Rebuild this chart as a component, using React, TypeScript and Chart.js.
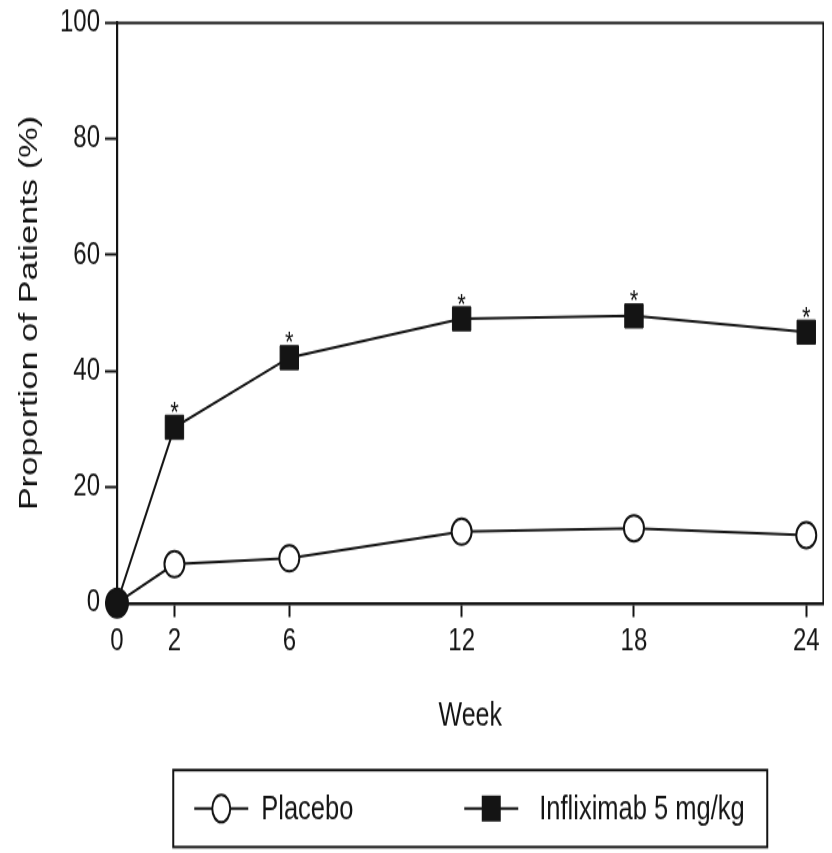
import React, { useEffect, useRef } from "react";
import { Chart, registerables } from "chart.js";

Chart.register(...registerables);

// ---- data ----
const weeks = [0, 2, 6, 12, 18, 24];
const placebo = [0, 6.7, 7.7, 12.3, 12.9, 11.7];
const infliximab = [0, 30.3, 42.3, 49.0, 49.5, 46.7];
const significant = [false, true, true, true, true, true];
const xTicks = [0, 2, 6, 12, 18, 24];
const yTicks = [0, 20, 40, 60, 80, 100];
const seriesLabels = ["Placebo", "Infliximab 5 mg/kg"];
const xTitle = "Week";
const yTitle = "Proportion of Patients (%)";

// ---- style ----
const INK = "#141414";
const SANS = "'Liberation Sans', Arial, Helvetica, sans-serif";
const CANVAS_W = 816;
const CANVAS_H = 650; // logical height, displayed stretched to 845px
const DISPLAY_H = 845;

const framePlugin = {
  id: "frame",
  afterDraw(chart: any) {
    const { ctx, chartArea: a } = chart;
    ctx.save();
    ctx.strokeStyle = INK;
    ctx.lineWidth = 2.2;
    ctx.beginPath();
    ctx.moveTo(a.left, a.top);
    ctx.lineTo(a.right, a.top);
    ctx.lineTo(a.right, a.bottom);
    ctx.stroke();
    ctx.restore();
  },
};

const asteriskPlugin = {
  id: "asterisks",
  afterDatasetsDraw(chart: any) {
    const { ctx } = chart;
    const meta = chart.getDatasetMeta(1);
    ctx.save();
    ctx.fillStyle = INK;
    ctx.font = `22px ${SANS}`;
    ctx.textAlign = "center";
    ctx.textBaseline = "alphabetic";
    meta.data.forEach((pt: any, i: number) => {
      if (significant[i]) ctx.fillText("*", pt.x, pt.y - 4.5);
    });
    ctx.restore();
  },
};

const legendPlugin = {
  id: "boxLegend",
  afterDraw(chart: any) {
    const { ctx, chartArea: a } = chart;
    const w = 594;
    const top = chart.height - 63.8;
    const bottom = chart.height - 4.6;
    const left = (a.left + a.right) / 2 - w / 2;
    const cy = (top + bottom) / 2;
    ctx.save();
    ctx.strokeStyle = INK;
    ctx.lineWidth = 2;
    ctx.strokeRect(left, top, w, bottom - top);

    const markerX = [48, 318];
    const textX = [88, 366];
    chart.data.datasets.forEach((ds: any, i: number) => {
      const mx = left + markerX[i];
      ctx.strokeStyle = INK;
      ctx.lineWidth = 2;
      ctx.beginPath();
      ctx.moveTo(mx - 27, cy);
      ctx.lineTo(mx + 27, cy);
      ctx.stroke();
      if (ds.pointStyle === "rect") {
        ctx.fillStyle = INK;
        ctx.fillRect(mx - 9.5, cy - 10, 19, 20);
      } else {
        ctx.fillStyle = "#ffffff";
        ctx.beginPath();
        ctx.ellipse(mx, cy, 9, 10.5, 0, 0, Math.PI * 2);
        ctx.fill();
        ctx.stroke();
      }
      ctx.fillStyle = INK;
      ctx.font = `25.5px ${SANS}`;
      ctx.textAlign = "left";
      ctx.textBaseline = "middle";
      ctx.fillText(ds.label, left + textX[i], cy + 1);
    });
    ctx.restore();
  },
};

export default function App() {
  const ref = useRef<HTMLCanvasElement>(null);

  useEffect(() => {
    const canvas = ref.current!;
    const chart = new Chart(canvas, {
      type: "line",
      data: {
        datasets: [
          {
            label: seriesLabels[0],
            data: weeks.map((w, i) => ({ x: w, y: placebo[i] })),
            borderColor: INK,
            borderWidth: 2,
            pointStyle: "circle",
            pointRadius: (c: any) => (c.dataIndex === 0 ? 11 : 10),
            pointBackgroundColor: (c: any) => (c.dataIndex === 0 ? INK : "#ffffff"),
            pointBorderColor: INK,
            pointBorderWidth: 2,
            tension: 0,
            clip: false,
          } as any,
          {
            label: seriesLabels[1],
            data: weeks.map((w, i) => ({ x: w, y: infliximab[i] })),
            borderColor: INK,
            borderWidth: 2,
            pointStyle: "rect",
            pointRadius: (c: any) => (c.dataIndex === 0 ? 0 : 13),
            pointBackgroundColor: INK,
            pointBorderColor: INK,
            pointBorderWidth: 1,
            tension: 0,
            clip: false,
          } as any,
        ],
      },
      options: {
        responsive: false,
        devicePixelRatio: 1,
        animation: false,
        events: [],
        layout: {
          autoPadding: false,
          padding: { top: 11.5, right: 0.5, left: 0, bottom: 89.6 },
        },
        plugins: {
          legend: { display: false },
          tooltip: { enabled: false },
        },
        scales: {
          x: {
            type: "linear",
            min: 0,
            max: 24.6,
            afterBuildTicks: (s: any) => {
              s.ticks = xTicks.map((v) => ({ value: v }));
            },
            afterFit: (s: any) => {
              s.height = 102.7;
              s.paddingLeft = 0;
              s.paddingRight = 0;
            },
            ticks: {
              color: INK,
              font: { family: SANS, size: 24 },
              padding: 4,
              maxRotation: 0,
              autoSkip: false,
              callback: (v: any) => String(v),
            },
            grid: {
              drawOnChartArea: false,
              drawTicks: true,
              tickLength: 10.8,
              tickWidth: 2,
              color: INK,
            },
            border: { display: true, color: INK, width: 2.4 },
            title: {
              display: true,
              text: xTitle,
              color: INK,
              font: { family: SANS, size: 25 },
              padding: 0,
            },
          },
          y: {
            type: "linear",
            min: 0,
            max: 100,
            afterBuildTicks: (s: any) => {
              s.ticks = yTicks.map((v) => ({ value: v }));
            },
            afterFit: (s: any) => {
              s.width = 109;
              s.paddingTop = 0;
              s.paddingBottom = 0;
            },
            ticks: {
              color: INK,
              font: { family: SANS, size: 24 },
              padding: 5,
              autoSkip: false,
              callback: (v: any) => String(v),
            },
            grid: {
              drawOnChartArea: false,
              drawTicks: true,
              tickLength: 12,
              tickWidth: 2,
              color: INK,
            },
            border: { display: true, color: INK, width: 2.2 },
            title: {
              display: true,
              text: yTitle,
              color: INK,
              font: { family: SANS, size: 26.5 },
              padding: { top: 6, bottom: 0 },
            },
          },
        },
      } as any,
      plugins: [framePlugin, asteriskPlugin, legendPlugin],
    });
    return () => chart.destroy();
  }, []);

  return (
    <canvas
      ref={ref}
      width={CANVAS_W}
      height={CANVAS_H}
      style={{ display: "block", width: `${CANVAS_W}px`, height: `${DISPLAY_H}px` }}
    />
  );
}
